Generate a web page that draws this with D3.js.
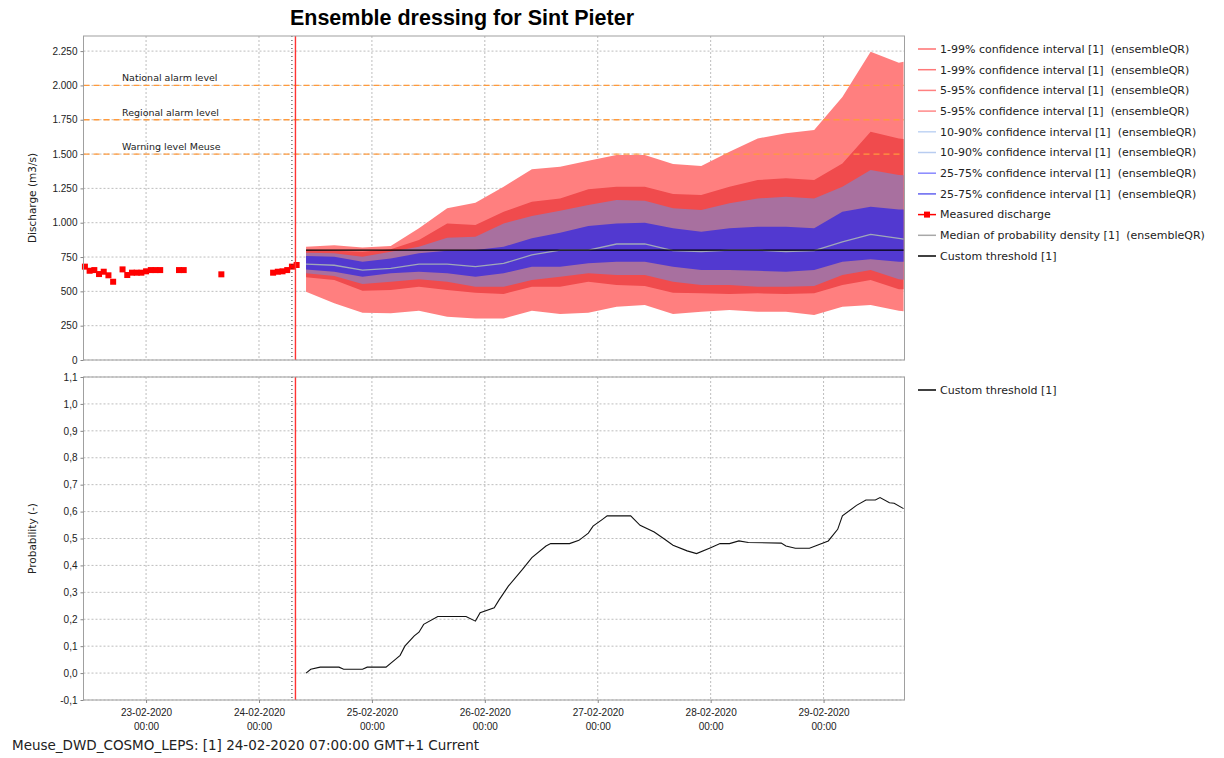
<!DOCTYPE html>
<html lang="en">
<head>
  <meta charset="UTF-8">
  <title>Ensemble dressing for Sint Pieter</title>
  <script src="https://d3js.org/d3.v7.min.js"></script>
  <style>
    html, body {
      margin: 0;
      padding: 0;
      background: #fff;
    }
    svg {
      font-family: "DejaVu Sans", sans-serif;
    }
    .grid line {
      stroke: #bdbdbd;
      stroke-dasharray: 2,2;
    }
    .axis path, .axis line {
      stroke: #888;
    }
    .axis text {
      font-size: 10px;
      fill: #222;
    }
    .frame {
      fill: none;
      stroke: #a0a0a0;
    }
    .legend text {
      font-size: 11px;
      fill: #222;
      white-space: pre;
    }
  </style>
</head>
<body>
  <div id="chart"></div>

  <script>
    // hours relative to 24-02-2020 00:00
    const obsHours  = [-37,-36,-35,-34,-33,-32,-31,-29,-28,-27,-26,-25,-24,-23,-22,-21,-17,-16,-8,3,4,5,6,7,8];
    const obsValues = [680,650,655,626,643,617,570,660,619,636,636,636,646,655,655,655,655,655,624,636,643,646,655,680,692];

    const fcHours = [10,16,22,28,34,40,46,52,58,64,70,76,82,88,94,100,106,112,118,124,130,136,137];
    const p1  = [497,413,345,340,359,315,303,303,359,335,345,388,400,335,352,364,352,352,328,388,400,359,355];
    const p5  = [602,583,505,510,534,510,490,481,534,534,570,546,539,490,486,481,486,481,486,546,583,515,515];
    const p10 = [631,612,553,570,588,570,534,534,583,607,631,619,619,570,546,546,534,534,539,619,655,588,585];
    const p25 = [660,643,607,631,643,631,607,631,680,680,704,716,716,680,655,655,650,643,655,716,733,716,716];
    const p50 = [699,690,655,668,699,699,680,704,765,801,801,845,845,796,789,801,801,789,796,861,915,886,880];
    const p75 = [757,752,716,740,777,796,801,825,886,927,976,995,1000,959,934,959,971,971,959,1080,1116,1097,1097];
    const p90 = [782,777,752,789,825,891,898,995,1049,1087,1129,1165,1160,1105,1092,1141,1177,1189,1177,1262,1384,1347,1345];
    const p95 = [801,796,789,806,874,995,983,1080,1153,1177,1243,1262,1262,1209,1202,1262,1311,1323,1311,1432,1663,1614,1610];
    const p99 = [825,835,820,830,959,1105,1146,1262,1389,1408,1451,1493,1493,1427,1413,1517,1614,1651,1675,1915,2245,2165,2172];

    const thresholdValue = 800;
    const alarmLevels = [2000, 1750, 1500];
    const alarmNames  = ['National alarm level', 'Regional alarm level', 'Warning level Meuse'];

    const probHours  = [10,11,13,17,18,22,23,27,29,30,31,33,34,35,38,44,46,47,50,51,53,56,58,61,62,66,68,70,71,73,74,79,81,84,86,88,91,93,96,98,100,102,104,111,112,114,117,121,123,124,127,129,131,132,134,135,137];
    const probValues = [0.0,0.014,0.022,0.022,0.014,0.014,0.022,0.022,0.051,0.066,0.10,0.138,0.152,0.181,0.21,0.21,0.193,0.224,0.243,0.271,0.323,0.385,0.429,0.472,0.481,0.481,0.493,0.52,0.546,0.571,0.584,0.584,0.549,0.524,0.5,0.475,0.454,0.444,0.466,0.481,0.481,0.491,0.485,0.483,0.472,0.464,0.464,0.491,0.534,0.584,0.623,0.643,0.643,0.652,0.633,0.631,0.611];

    const dayTicks = [-24, 0, 24, 48, 72, 96, 120];
    const t0Hour = 7;
    const nowHour = 7.75;

    const legendTop = [
      ['1-99% confidence interval [1]  (ensembleQR)', '#ff7070'],
      ['1-99% confidence interval [1]  (ensembleQR)', '#ff7878'],
      ['5-95% confidence interval [1]  (ensembleQR)', '#ff8080'],
      ['5-95% confidence interval [1]  (ensembleQR)', '#ff8888'],
      ['10-90% confidence interval [1]  (ensembleQR)', '#c0d4f4'],
      ['10-90% confidence interval [1]  (ensembleQR)', '#b8ccf0'],
      ['25-75% confidence interval [1]  (ensembleQR)', '#8888ff'],
      ['25-75% confidence interval [1]  (ensembleQR)', '#6464f0'],
      ['Measured discharge', '#ff0000'],
      ['Median of probability density [1]  (ensembleQR)', '#a8a8a8'],
      ['Custom threshold [1]', '#000000']
    ];

    const width = 1224, height = 758;
    const left = 83.5, right = 904.5;
    const top1 = 36, bot1 = 360, top2 = 377, bot2 = 700;

    const base = new Date(2020, 1, 24, 0, 0).getTime();
    const toDate = h => new Date(base + h * 3600e3);

    const svg = d3.select('#chart').append('svg').attr('width', width).attr('height', height);

    const x = d3.scaleTime().domain([toDate(-37.3), toDate(137.2)]).range([left, right]);
    const yQ = d3.scaleLinear().domain([0, 2360]).range([bot1, top1]);
    const yP = d3.scaleLinear().domain([-0.1, 1.1]).range([bot2, top2]);

    const qTicks = d3.range(0, 2251, 250);
    const pTicks = d3.range(-1, 12).map(i => i / 10);

    // title
    svg.append('text').attr('x', 462).attr('y', 25).attr('text-anchor', 'middle')
      .style('font-family', '"Liberation Sans", Arial, sans-serif')
      .style('font-weight', 'bold').style('font-size', '21.5px').text('Ensemble dressing for Sint Pieter');

    function panelGrid(y, ticks, y0, y1) {
      const g = svg.append('g').attr('class', 'grid');
      g.selectAll('.h').data(ticks).join('line')
        .attr('x1', left).attr('x2', right).attr('y1', d => y(d)).attr('y2', d => y(d));
      g.selectAll('.v').data(dayTicks).join('line')
        .attr('x1', d => x(toDate(d))).attr('x2', d => x(toDate(d))).attr('y1', y0).attr('y2', y1);
    }
    panelGrid(yQ, qTicks, top1, bot1);
    panelGrid(yP, pTicks, top2, bot2);

    // ---- top panel: ensemble bands
    const fc = fcHours.map((h, i) => ({
      t: toDate(h), p1: p1[i], p5: p5[i], p10: p10[i], p25: p25[i], p50: p50[i],
      p75: p75[i], p90: p90[i], p95: p95[i], p99: p99[i]
    }));
    const band = (lo, hi) => d3.area().x(d => x(d.t)).y0(d => yQ(d[lo])).y1(d => yQ(d[hi]));
    svg.append('path').datum(fc).attr('d', band('p1', 'p99')).attr('fill', '#ff7f7f');
    svg.append('path').datum(fc).attr('d', band('p5', 'p95')).attr('fill', '#f04b4d');
    svg.append('path').datum(fc).attr('d', band('p10', 'p90')).attr('fill', '#a8709f');
    svg.append('path').datum(fc).attr('d', band('p25', 'p75')).attr('fill', '#5239d0');
    svg.append('path').datum(fc)
      .attr('d', d3.line().x(d => x(d.t)).y(d => yQ(d.p50)))
      .attr('fill', 'none').attr('stroke', '#a0a8b8').attr('stroke-width', 1.3);

    // alarm levels
    alarmLevels.forEach((v, i) => {
      svg.append('line').attr('x1', left).attr('x2', right).attr('y1', yQ(v)).attr('y2', yQ(v))
        .attr('stroke', '#ff9a3c').attr('stroke-width', 1.3).attr('stroke-dasharray', '6,4');
      svg.append('text').attr('x', 122).attr('y', yQ(v) - 4).style('font-size', '9.5px').attr('fill', '#222')
        .text(alarmNames[i]);
    });

    // custom threshold
    svg.append('line')
      .attr('x1', x(toDate(fcHours[0]))).attr('x2', x(toDate(fcHours[fcHours.length - 1])))
      .attr('y1', yQ(thresholdValue)).attr('y2', yQ(thresholdValue))
      .attr('stroke', '#000').attr('stroke-width', 1.3);

    // measured discharge
    svg.append('g').selectAll('rect').data(obsHours).join('rect')
      .attr('x', (d, i) => x(toDate(d)) - 3).attr('y', (d, i) => yQ(obsValues[i]) - 3)
      .attr('width', 6).attr('height', 6).attr('fill', '#ff0000');

    // ---- bottom panel: probability
    svg.append('path').datum(probHours)
      .attr('d', d3.line().x(d => x(toDate(d))).y((d, i) => yP(probValues[i])))
      .attr('fill', 'none').attr('stroke', '#111').attr('stroke-width', 1.1);

    // T0 and current time lines in both panels
    [[top1, bot1], [top2, bot2]].forEach(([a, b]) => {
      svg.append('line').attr('x1', x(toDate(t0Hour))).attr('x2', x(toDate(t0Hour))).attr('y1', a).attr('y2', b)
        .attr('stroke', '#333').attr('stroke-dasharray', '1,3');
      svg.append('line').attr('x1', x(toDate(nowHour))).attr('x2', x(toDate(nowHour))).attr('y1', a).attr('y2', b)
        .attr('stroke', '#ff3333').attr('stroke-width', 1.4);
    });

    // frames
    svg.append('rect').attr('class', 'frame').attr('x', left).attr('y', top1).attr('width', right - left).attr('height', bot1 - top1);
    svg.append('rect').attr('class', 'frame').attr('x', left).attr('y', top2).attr('width', right - left).attr('height', bot2 - top2);

    // axes
    svg.append('g').attr('class', 'axis').attr('transform', `translate(${left},0)`)
      .call(d3.axisLeft(yQ).tickValues(qTicks).tickSize(3).tickPadding(3)
        .tickFormat(d => d3.format(',')(d).replace(/,/g, '.')))
      .call(g => g.select('.domain').remove());
    svg.append('g').attr('class', 'axis').attr('transform', `translate(${left},0)`)
      .call(d3.axisLeft(yP).tickValues(pTicks).tickSize(3).tickPadding(3)
        .tickFormat(d => d3.format('.1f')(d).replace('.', ',').replace('−', '-')))
      .call(g => g.select('.domain').remove());

    const xAxis = svg.append('g').attr('class', 'axis').attr('transform', `translate(0,${bot2})`)
      .call(d3.axisBottom(x).tickValues(dayTicks.map(toDate)).tickSize(3).tickFormat(''))
      .call(g => g.select('.domain').remove());
    xAxis.selectAll('.tick').append('text').attr('fill', '#222').attr('text-anchor', 'middle')
      .style('font-size', '10px')
      .each(function (d) {
        const t = d3.select(this);
        t.append('tspan').attr('x', 0).attr('y', 16).text(d3.timeFormat('%d-%m-%Y')(d));
        t.append('tspan').attr('x', 0).attr('y', 30).text(d3.timeFormat('%H:%M')(d));
      });

    // axis titles
    svg.append('text').attr('transform', `translate(36,${(top1 + bot1) / 2}) rotate(-90)`)
      .attr('text-anchor', 'middle').style('font-size', '10.5px').attr('fill', '#222').text('Discharge (m3/s)');
    svg.append('text').attr('transform', `translate(36,${(top2 + bot2) / 2}) rotate(-90)`)
      .attr('text-anchor', 'middle').style('font-size', '10.5px').attr('fill', '#222').text('Probability (-)');

    // legends
    const leg = svg.append('g').attr('class', 'legend');
    const rows = leg.selectAll('g').data(legendTop).join('g')
      .attr('transform', (d, i) => `translate(918,${49 + i * 20.7})`);
    rows.append('line').attr('x1', 0).attr('x2', 18).attr('stroke', d => d[1]).attr('stroke-width', 1.5);
    rows.filter(d => d[0] === 'Measured discharge').append('rect')
      .attr('x', 6).attr('y', -3).attr('width', 6).attr('height', 6).attr('fill', '#ff0000');
    rows.append('text').attr('x', 22).attr('dy', '0.35em').text(d => d[0]);

    const leg2 = leg.append('g').attr('transform', 'translate(918,390)');
    leg2.append('line').attr('x1', 0).attr('x2', 18).attr('stroke', '#000').attr('stroke-width', 1.5);
    leg2.append('text').attr('x', 22).attr('dy', '0.35em').text('Custom threshold [1]');

    // footer
    svg.append('text').attr('x', 12).attr('y', 750).style('font-size', '13.5px').attr('fill', '#222')
      .text('Meuse_DWD_COSMO_LEPS: [1] 24-02-2020 07:00:00 GMT+1 Current');
  </script>
</body>
</html>
